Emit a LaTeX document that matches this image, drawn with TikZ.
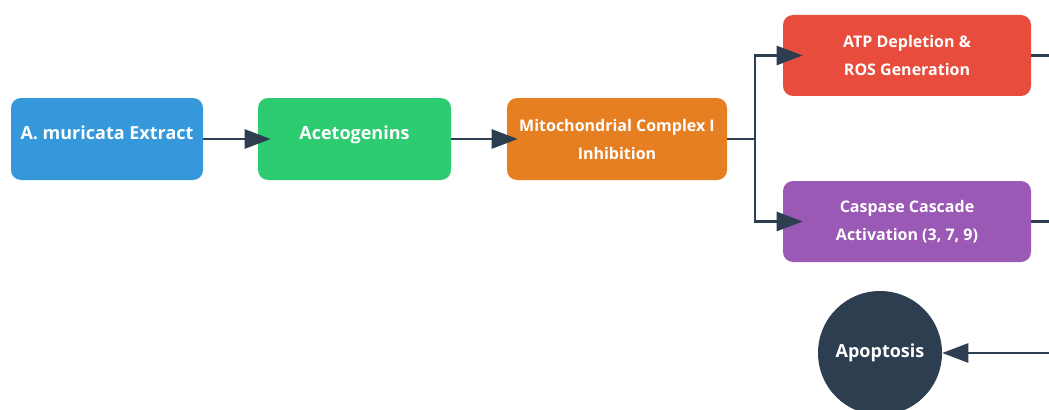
\documentclass[tikz,border=0pt]{standalone}
\usepackage{fontspec}
\setmainfont{Open Sans}
\usetikzlibrary{arrows.meta}

\definecolor{extractblue}{HTML}{3498DB}
\definecolor{acetogreen}{HTML}{2ECC71}
\definecolor{complexorange}{HTML}{E67E22}
\definecolor{atpred}{HTML}{E74C3C}
\definecolor{caspasepurple}{HTML}{9B59B6}
\definecolor{ink}{HTML}{2C3E50}

\begin{document}
\begin{tikzpicture}[x=0.75pt, y=-0.75pt,
	box/.style={rounded corners=7.5pt, minimum height=61.5pt, inner sep=0pt, text=white,
		font=\bfseries\fontsize{12}{21}\selectfont, align=center},
	oneline/.style={font=\bfseries\fontsize{13.5}{21}\selectfont, text height=10pt, text depth=10pt},
	flow/.style={draw=ink, line width=1.9pt, -{Triangle[length=19.5pt,width=14.25pt]}},
	link/.style={draw=ink, line width=1.9pt}]
	\clip (0,0) rectangle (1049,410);
	
	\node [box, oneline, fill=extractblue, minimum width=144pt] (extract) at (107,139) {A. muricata Extract};
	\node [box, oneline, fill=acetogreen, minimum width=144.75pt] (aceto) at (354.5,139) {Acetogenins};
	\node [box, fill=complexorange, minimum width=165pt] (complex) at (617,139) {Mitochondrial Complex I\\Inhibition};
	\node [box, fill=atpred, minimum width=186pt, minimum height=60.75pt] (atp) at (907,55.5) {ATP Depletion \&\\ROS Generation};
	\node [box, fill=caspasepurple, minimum width=186pt, minimum height=60.75pt] (caspase) at (907,221.5) {Caspase Cascade\\Activation (3, 7, 9)};
	\node [circle, fill=ink, minimum size=93pt, inner sep=0pt, text=white, font=\bfseries\fontsize{13.5}{21}\selectfont] (apoptosis) at (880,353) {Apoptosis};
	
	\coordinate (split) at (755,139);
	\coordinate (merge) at (1080,353);
	
	% main chain
	\draw [flow, shorten >=-9.75pt] (extract) -- (aceto);
	\draw [flow, shorten >=-8.25pt] (aceto) -- (complex);
	
	% branch
	\draw [link] (complex.east) -- (split);
	\draw [flow, shorten >=-15pt] (split) |- (atp.west);
	\draw [flow, shorten >=-15pt] (split) |- (caspase.west);
	
	% back to apoptosis (runs past the right edge)
	\draw [link] (atp.east) -| (merge);
	\draw [link] (caspase.east) -| (merge);
	\draw [flow] (merge) -- (apoptosis.east);
\end{tikzpicture}
\end{document}
